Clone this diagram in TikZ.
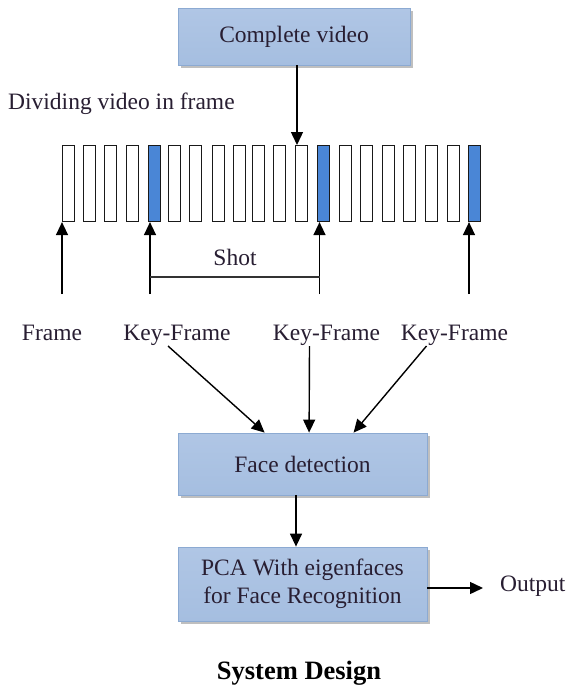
\documentclass[tikz,border=0pt]{standalone}
\usepackage{fontspec}
\setmainfont{Liberation Serif}
\usetikzlibrary{arrows.meta,shadows,calc}
\definecolor{txt}{RGB}{40,30,50}
\definecolor{keyblue}{RGB}{74,134,214}
\definecolor{boxedge}{RGB}{140,170,210}
\definecolor{bA}{RGB}{176,198,229}
\definecolor{bB}{RGB}{238,243,250}
\definecolor{bC}{RGB}{165,190,224}
\begin{document}
\begin{tikzpicture}[x=1pt,y=-1pt,
  font=\fontsize{23.5}{28}\selectfont, text=txt,
  box/.style={draw=boxedge, line width=0.8pt, top color=bA, middle color=bB, bottom color=bC,
    drop shadow={shadow xshift=3pt, shadow yshift=-3pt, fill=black!45, opacity=0.55},
    inner sep=0pt, align=center},
  frm/.style={draw=black!90, line width=1.1pt, fill=white, minimum width=12pt, minimum height=76pt, inner sep=0pt},
  keyfrm/.style={frm, fill=keyblue},
  arr/.style={line width=1.4pt, -{Triangle[length=13pt,width=12pt]}},
  lbl/.style={anchor=base, inner sep=0pt}]
\useasboundingbox (0,0) rectangle (571,688);
\fill[white] (0,0) rectangle (571,688);

% boxes
\node[box, minimum width=232pt, minimum height=57pt] (cv) at (294,36.5) {Complete video};
\node[box, minimum width=249pt, minimum height=62pt] (fd) at (302.5,464) {Face detection};
\node[box, minimum width=249pt, minimum height=74pt] (pca) at (302.5,584) {PCA With eigenfaces\\for Face Recognition};

% title texts
\node[anchor=base west, inner sep=0pt] (div) at (8,109) {Dividing video in frame};

% frames
\foreach \i/\x in {1/61.7,2/82.7,3/104.3,4/126,6/167.7,7/189,8/212.3,9/232.7,10/252.3,11/273.3,12/295,14/339,15/360,16/381.7,17/402.7,18/425,19/447.3}
  \node[frm, anchor=north west] (f\i) at (\x,145) {};
\foreach \i/\x in {5/148.3,13/317.3,20/468.3}
  \node[keyfrm, anchor=north west] (f\i) at (\x,145) {};

% arrow from complete video to frames
\coordinate (tv) at (297,65);
\draw[arr] (tv) -- (tv |- f12.north);

% up arrows
\coordinate (u1) at (62,294);
\coordinate (u2) at (150,294);
\coordinate (u3) at (319.5,294);
\coordinate (u4) at (469,294);
\draw[arr] (u1) -- (u1 |- f1.south);
\draw[arr] (u2) -- (u2 |- f5.south);
\draw[arr] (u3) -- (u3 |- f13.south);
\draw[arr] (u4) -- (u4 |- f20.south);

% shot bracket
\coordinate (s1) at (150,277);
\coordinate (s2) at (319.5,277);
\draw[line width=1.2pt, black!80] (s1) -- (s2);
\node[lbl] (shot) at (235,265) {Shot};

% labels
\node[lbl] (fr) at (52,340) {Frame};
\node[lbl] (kf1) at (177,340) {Key-Frame};
\node[lbl] (kf2) at (326.5,340) {Key-Frame};
\node[lbl] (kf3) at (454.5,340) {Key-Frame};

% key-frame arrows to face detection
\draw[arr] ($(kf1.base)+(-9,6)$) -- ($(fd.north west)+(87,0)$);
\draw[arr] ($(kf2.base)+(-17,6)$) -- ($(fd.north west)+(131.5,0)$);
\draw[arr] ($(kf3.base)+(-28,6)$) -- ($(fd.north west)+(176,0)$);

% face detection to PCA
\coordinate (m1) at (296,495);
\draw[arr] (m1) -- (m1 |- pca.north);

% output
\node[anchor=base west, inner sep=0pt] (out) at (500,591) {Output};
\coordinate (o1) at (427,588);
\draw[arr] (pca.east |- o1) -- (483,588);

% caption
\node[lbl, font=\fontsize{26.5}{30}\selectfont\bfseries, text=black] (cap) at (299,679) {System Design};
\end{tikzpicture}
\end{document}
